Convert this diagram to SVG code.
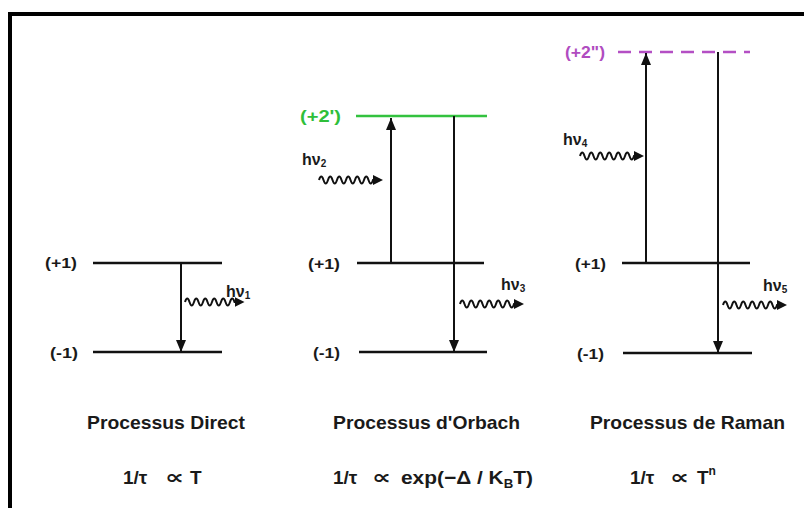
<svg xmlns="http://www.w3.org/2000/svg" width="804" height="508" viewBox="0 0 804 508">
  <style>
    .lvl { stroke: #111; stroke-width: 2.5; fill: none; }
    .arr { stroke: #111; stroke-width: 2; fill: none; marker-end: url(#head); }
    .wave { stroke: #111; stroke-width: 2; fill: none; marker-end: url(#whead); }
    .t { font-family: "Liberation Sans", Arial, sans-serif; font-weight: bold; fill: #1a1a1a; }
    .lab { font-size: 15px; }
    .hv { font-size: 16px; }
    .cap { font-size: 19px; }
    .prop { font-family: "DejaVu Sans", sans-serif; font-weight: bold; font-size: 20px; fill: #1a1a1a; }
  </style>
  <defs>
    <marker id="head" markerUnits="userSpaceOnUse" markerWidth="14" markerHeight="12" refX="12" refY="5" orient="auto">
      <path d="M0,0 L12,5 L0,10 z" fill="#111"/>
    </marker>
    <marker id="whead" markerUnits="userSpaceOnUse" markerWidth="12" markerHeight="12" refX="1" refY="5" orient="auto">
      <path d="M0,0 L10,5 L0,10 z" fill="#111"/>
    </marker>
  </defs>
  <rect width="804" height="508" fill="#fff"/>
  <rect x="10" y="14" width="900" height="600" fill="none" stroke="#000" stroke-width="4"/>

  <!-- Processus Direct -->
  <g id="direct-p1">
    <line class="lvl" x1="93" y1="263" x2="222" y2="263"/>
    <text class="t lab" x="45" y="268" textLength="32" lengthAdjust="spacingAndGlyphs">(+1)</text>
  </g>
  <g id="direct-m1">
    <line class="lvl" x1="93" y1="352" x2="222" y2="352"/>
    <text class="t lab" x="50" y="358" textLength="28" lengthAdjust="spacingAndGlyphs">(-1)</text>
  </g>

  <!-- Processus d'Orbach -->
  <g id="orbach-p2">
    <line stroke="#33c23f" stroke-width="2.5" x1="356" y1="116" x2="487" y2="116"/>
    <text class="t" x="300" y="122" font-size="16" style="fill:#2fbf3a" textLength="41" lengthAdjust="spacingAndGlyphs">(+2')</text>
  </g>
  <g id="orbach-p1">
    <line class="lvl" x1="357" y1="263" x2="484" y2="263"/>
    <text class="t lab" x="308" y="269" textLength="32" lengthAdjust="spacingAndGlyphs">(+1)</text>
  </g>
  <g id="orbach-m1">
    <line class="lvl" x1="359" y1="352" x2="487" y2="352"/>
    <text class="t lab" x="313" y="358" textLength="27" lengthAdjust="spacingAndGlyphs">(-1)</text>
  </g>

  <!-- Processus de Raman -->
  <g id="raman-p2">
    <line stroke="#b44fc4" stroke-width="2.5" stroke-dasharray="13,8" x1="618" y1="52" x2="750" y2="52"/>
    <text class="t" x="565" y="58" font-size="16" style="fill:#b04cc0" textLength="40" lengthAdjust="spacingAndGlyphs">(+2")</text>
  </g>
  <g id="raman-p1">
    <line class="lvl" x1="622" y1="263" x2="750" y2="263"/>
    <text class="t lab" x="575" y="269" textLength="31" lengthAdjust="spacingAndGlyphs">(+1)</text>
  </g>
  <g id="raman-m1">
    <line class="lvl" x1="623" y1="353" x2="752" y2="353"/>
    <text class="t lab" x="577" y="359" textLength="27" lengthAdjust="spacingAndGlyphs">(-1)</text>
  </g>

  <!-- Connectors -->
  <g id="connectors">
    <line class="arr" x1="181" y1="263" x2="181" y2="352"/>
    <line class="arr" x1="391" y1="263" x2="391" y2="118"/>
    <line class="arr" x1="454" y1="116" x2="454" y2="352"/>
    <line class="arr" x1="646" y1="263" x2="646" y2="53"/>
    <line class="arr" x1="718" y1="52" x2="718" y2="353"/>

    <path class="wave" d="M185,302 q2.25,-7 4.5,0 t4.5,0 t4.5,0 t4.5,0 t4.5,0 t4.5,0 t4.5,0 t4.5,0 t4.5,0 t4.5,0 t4.5,0 h1"/>
    <path class="wave" d="M319,180 q2.25,-7 4.5,0 t4.5,0 t4.5,0 t4.5,0 t4.5,0 t4.5,0 t4.5,0 t4.5,0 t4.5,0 t4.5,0 t4.5,0 t4.5,0 h1"/>
    <path class="wave" d="M460,304 q2.25,-7 4.5,0 t4.5,0 t4.5,0 t4.5,0 t4.5,0 t4.5,0 t4.5,0 t4.5,0 t4.5,0 t4.5,0 t4.5,0 t4.5,0 h1"/>
    <path class="wave" d="M580,156 q2.25,-7 4.5,0 t4.5,0 t4.5,0 t4.5,0 t4.5,0 t4.5,0 t4.5,0 t4.5,0 t4.5,0 t4.5,0 t4.5,0 t4.5,0 h1"/>
    <path class="wave" d="M723,305 q2.25,-7 4.5,0 t4.5,0 t4.5,0 t4.5,0 t4.5,0 t4.5,0 t4.5,0 t4.5,0 t4.5,0 t4.5,0 t4.5,0 t4.5,0 h1"/>
  </g>

  <!-- photon labels -->
  <g id="labels-hv">
    <text class="t hv" x="226" y="297">hν<tspan font-size="10" dy="2">1</tspan></text>
    <text class="t hv" x="302" y="165">hν<tspan font-size="10" dy="2">2</tspan></text>
    <text class="t hv" x="501" y="290">hν<tspan font-size="10" dy="2">3</tspan></text>
    <text class="t hv" x="563" y="145">hν<tspan font-size="10" dy="2">4</tspan></text>
    <text class="t hv" x="763" y="291">hν<tspan font-size="10" dy="2">5</tspan></text>
  </g>

  <!-- captions -->
  <g id="captions">
    <text class="t cap" x="87" y="429" textLength="158" lengthAdjust="spacingAndGlyphs">Processus Direct</text>
    <text class="t cap" x="333" y="429" textLength="187" lengthAdjust="spacingAndGlyphs">Processus d'Orbach</text>
    <text class="t cap" x="590" y="429" textLength="195" lengthAdjust="spacingAndGlyphs">Processus de Raman</text>

    <text class="t cap" x="123" y="484">1/τ</text>
    <text class="prop" x="165" y="484" textLength="19" lengthAdjust="spacingAndGlyphs">∝</text>
    <text class="t cap" x="190" y="484">T</text>

    <text class="t cap" x="333" y="484">1/τ</text>
    <text class="prop" x="372" y="484" textLength="19" lengthAdjust="spacingAndGlyphs">∝</text>
    <text class="t cap" x="401" y="484" textLength="132" lengthAdjust="spacingAndGlyphs">exp(−Δ / K<tspan font-size="12" dy="4">B</tspan><tspan dy="-4">T)</tspan></text>

    <text class="t cap" x="630" y="484">1/τ</text>
    <text class="prop" x="670" y="484" textLength="19" lengthAdjust="spacingAndGlyphs">∝</text>
    <text class="t cap" x="697" y="484">T<tspan font-size="12" dy="-9">n</tspan></text>
  </g>
</svg>
